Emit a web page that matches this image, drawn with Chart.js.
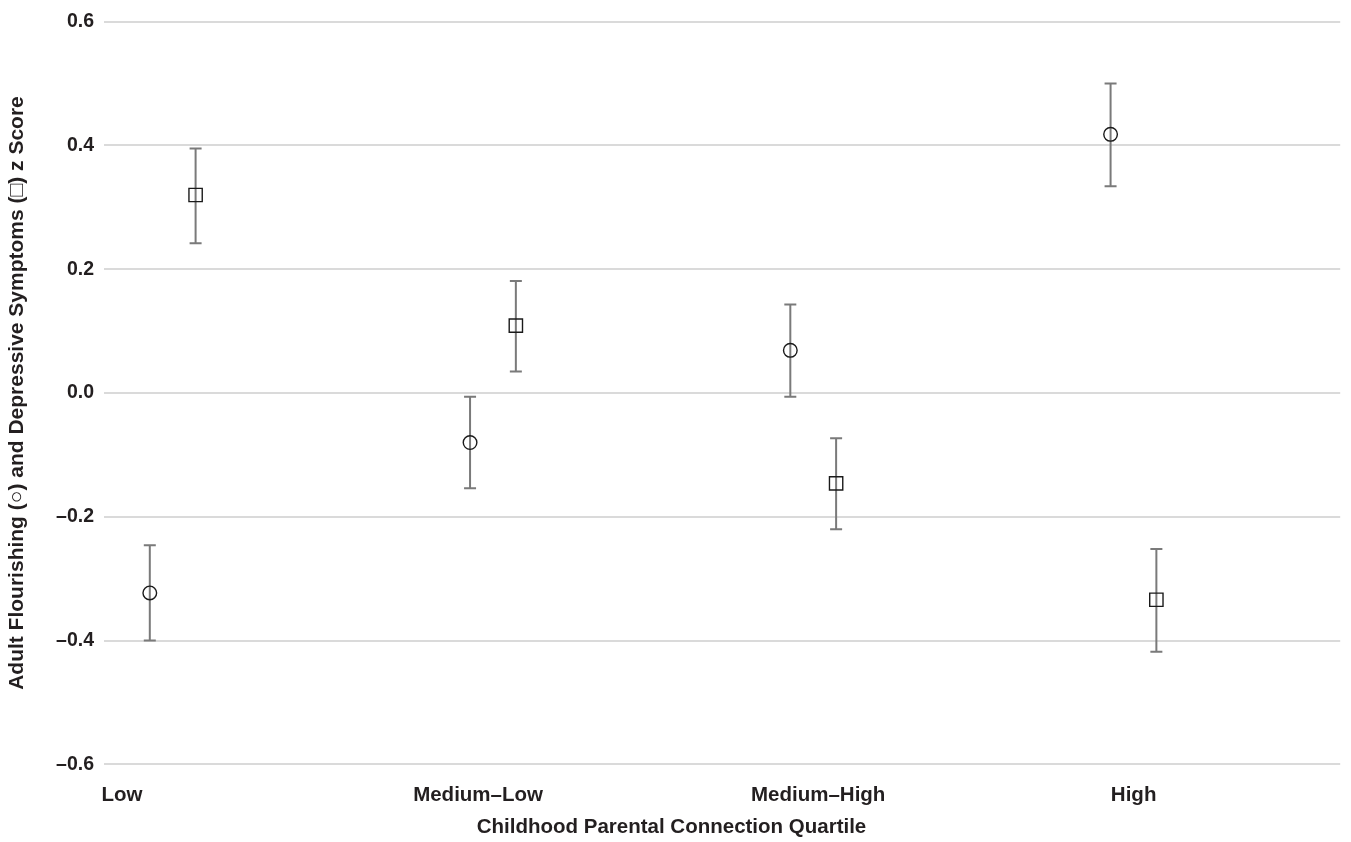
<!DOCTYPE html>
<html lang="en">
<head>
    <meta charset="UTF-8">
    <title>Flourishing and Depressive Symptoms by Parental Connection</title>
    <style>
        body {
            margin: 0;
            padding: 0;
            background: #fff;
        }
        .chart-box {
            width: 1351px;
            height: 842px;
        }
    </style>
</head>
<body>
    <div class="chart-box">
        <canvas id="quartile-chart"></canvas>
    </div>

    <script src="https://cdn.jsdelivr.net/npm/chart.js"></script>
    <script>
        const categories = ['Low', 'Medium\u2013Low', 'Medium\u2013High', 'High'];

        // flourishing (circles)
        const flourishMean = [-0.323, -0.080, 0.069, 0.418];
        const flourishLow = [-0.400, -0.154, -0.006, 0.334];
        const flourishHigh = [-0.246, -0.006, 0.143, 0.500];

        // depressive symptoms (squares)
        const depressMean = [0.320, 0.109, -0.146, -0.334];
        const depressLow = [0.242, 0.035, -0.220, -0.418];
        const depressHigh = [0.395, 0.181, -0.073, -0.252];

        const yTicks = [-0.6, -0.4, -0.2, 0.0, 0.2, 0.4, 0.6];

        // layout: where each series sits inside a quartile and where labels go
        const squareShift = 0.143;
        const labelAt = [-0.087, 1.025, 2.087, 3.072];

        const textColor = '#231f20';
        const fontFamily = '"Liberation Sans", Arial, sans-serif';

        const toPoints = (means, lows, highs, shift) =>
            means.map((m, i) => ({ x: i + shift, y: m, lo: lows[i], hi: highs[i] }));

        // vertical error bars with caps, drawn under the markers
        const errorBars = {
            id: 'errorBars',
            beforeDatasetsDraw(chart) {
                const { ctx, scales: { x, y } } = chart;
                ctx.save();
                ctx.strokeStyle = '#7a7a7a';
                ctx.lineWidth = 2;
                chart.data.datasets.forEach(ds => {
                    ds.data.forEach(p => {
                        const px = x.getPixelForValue(p.x);
                        const top = y.getPixelForValue(p.hi);
                        const bot = y.getPixelForValue(p.lo);
                        ctx.beginPath();
                        ctx.moveTo(px, top);
                        ctx.lineTo(px, bot);
                        ctx.moveTo(px - 6, top);
                        ctx.lineTo(px + 6, top);
                        ctx.moveTo(px - 6, bot);
                        ctx.lineTo(px + 6, bot);
                        ctx.stroke();
                    });
                });
                ctx.restore();
            }
        };

        const ctx = document.getElementById('quartile-chart').getContext('2d');
        new Chart(ctx, {
            type: 'scatter',
            data: {
                datasets: [{
                    label: 'Adult Flourishing',
                    data: toPoints(flourishMean, flourishLow, flourishHigh, 0),
                    pointStyle: 'circle',
                    pointRadius: 6.8,
                    pointHoverRadius: 6.8,
                    borderColor: '#1a1a1a',
                    borderWidth: 1.4,
                    backgroundColor: 'rgba(0,0,0,0)'
                }, {
                    label: 'Depressive Symptoms',
                    data: toPoints(depressMean, depressLow, depressHigh, squareShift),
                    pointStyle: 'rect',
                    pointRadius: 9.4,
                    pointHoverRadius: 9.4,
                    borderColor: '#1a1a1a',
                    borderWidth: 1.4,
                    backgroundColor: 'rgba(0,0,0,0)'
                }]
            },
            options: {
                responsive: true,
                maintainAspectRatio: false,
                animation: false,
                layout: {
                    padding: { top: 16, right: 8, left: 0, bottom: 0 }
                },
                plugins: {
                    legend: { display: false },
                    tooltip: { enabled: false },
                    title: {
                        display: true,
                        position: 'bottom',
                        text: 'Childhood Parental Connection Quartile',
                        color: textColor,
                        font: { family: fontFamily, size: 20.5, weight: 'bold' },
                        padding: { top: 0, bottom: 2 }
                    }
                },
                scales: {
                    x: {
                        type: 'linear',
                        min: -0.143,
                        max: 3.717,
                        grid: { display: false },
                        border: { display: false },
                        afterBuildTicks: scale => {
                            scale.ticks = labelAt.map(v => ({ value: v }));
                        },
                        afterFit: scale => { scale.height = 51; },
                        ticks: {
                            autoSkip: false,
                            maxRotation: 0,
                            padding: 11,
                            color: textColor,
                            font: { family: fontFamily, size: 20.5, weight: 'bold' },
                            callback: (value, index) => categories[index]
                        }
                    },
                    y: {
                        min: -0.6,
                        max: 0.6,
                        afterBuildTicks: scale => {
                            scale.ticks = yTicks.map(v => ({ value: v }));
                        },
                        afterFit: scale => { scale.width = 104; },
                        grid: {
                            color: '#dadada',
                            lineWidth: 2,
                            drawTicks: false
                        },
                        border: { display: false },
                        ticks: {
                            padding: 10,
                            color: textColor,
                            font: { family: fontFamily, size: 19.5, weight: 'bold' },
                            callback: value => value.toFixed(1).replace('-', '\u2013')
                        },
                        title: {
                            display: true,
                            text: 'Adult Flourishing (\u25cb) and Depressive Symptoms (\u25a1) z Score',
                            color: textColor,
                            font: { family: fontFamily, size: 21, weight: 'bold' },
                            padding: { top: 5, bottom: 0 }
                        }
                    }
                }
            },
            plugins: [errorBars]
        });
    </script>
</body>
</html>
